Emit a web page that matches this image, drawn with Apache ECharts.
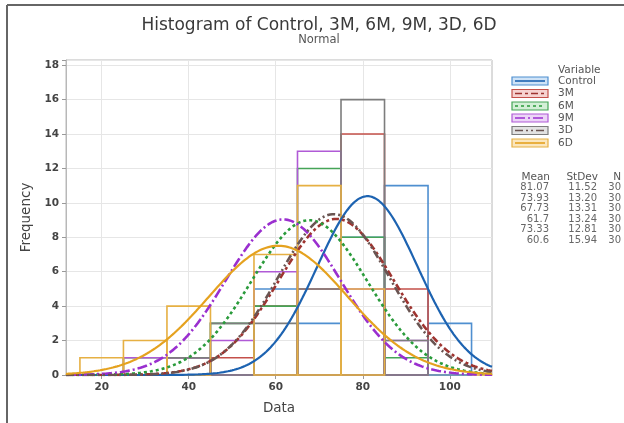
<!DOCTYPE html>
<html>
<head>
<meta charset="utf-8">
<script src="https://cdn.jsdelivr.net/npm/echarts@6/dist/echarts.min.js"></script>
<style>
  html, body { margin: 0; padding: 0; background: #fff; }
  #main { width: 624px; height: 423px; }
</style>
</head>
<body>
<div id="main"></div>
<script>
// bins are 10 wide, labelled by their centre
var binCenters = [20, 30, 40, 50, 60, 70, 80, 90, 100];
var variables = ['Control', '3M', '6M', '9M', '3D', '6D'];
var countsControl = [0, 0, 0, 0, 5, 3, 8, 11, 3];
var counts3M      = [0, 0, 1, 1, 4, 5, 14, 5, 0];
var counts6M      = [0, 1, 1, 3, 4, 12, 8, 1, 0];
var counts9M      = [0, 1, 1, 2, 6, 13, 5, 2, 0];
var counts3D      = [0, 0, 1, 3, 3, 5, 16, 2, 0];
var counts6D      = [1, 2, 4, 0, 7, 11, 5, 0, 0];
var means  = [81.07, 73.93, 67.73, 61.7, 73.33, 60.6];
var stdevs = [11.52, 13.20, 13.31, 13.24, 12.81, 15.94];
var sizes  = [30, 30, 30, 30, 30, 30];
var xTicks = [20, 40, 60, 80, 100];

var allCounts = [countsControl, counts3M, counts6M, counts9M, counts3D, counts6D];
var barColors  = ['#4f8fd0', '#c4504a', '#45a457', '#b05ad6', '#7d7d7d', '#e6b043'];
var lineColors = ['#1d63b1', '#9e3430', '#2a9b3b', '#9a2fcf', '#6a5552', '#e5a21f'];
var fillColors = ['#cfe3f7', '#f6d2d0', '#d3efd7', '#ecd5f7', '#e2e2e2', '#fbe6bd'];
var dashes = ['solid', [7, 3, 3, 3], [3, 3], [10, 3, 2, 3], [8, 3, 2, 3, 2, 3], 'solid'];
var lineWidths = [2.2, 2.6, 2.6, 2.6, 2.6, 2.2];

var xMin = 11.8, xMax = 109.7, binWidth = 10;
var font = 'DejaVu Sans';

var chart = echarts.init(document.getElementById('main'));

var series = [];
allCounts.forEach(function (counts, i) {
  series.push({
    name: variables[i] + ' bars',
    type: 'custom',
    z: 2,
    data: binCenters.map(function (c, k) { return [c, counts[k]]; }),
    renderItem: function (params, api) {
      var c = api.value(0), h = api.value(1);
      if (!h) return null;
      var p1 = api.coord([c - binWidth / 2, h]);
      var p2 = api.coord([c + binWidth / 2, 0]);
      return {
        type: 'rect',
        shape: { x: p1[0], y: p1[1], width: p2[0] - p1[0], height: p2[1] - p1[1] },
        style: { fill: 'none', stroke: barColors[i], lineWidth: 1.6 }
      };
    }
  });
});

// fitted normal curves, scaled to counts per bin
means.forEach(function (m, i) {
  var pts = [];
  for (var k = 0; k <= 200; k++) {
    var x = xMin + (xMax - xMin) * k / 200;
    var z = (x - m) / stdevs[i];
    pts.push([x, sizes[i] * binWidth * Math.exp(-0.5 * z * z) / (stdevs[i] * Math.sqrt(2 * Math.PI))]);
  }
  series.push({
    name: variables[i],
    type: 'line',
    z: 3,
    showSymbol: false,
    silent: true,
    data: pts,
    lineStyle: { color: lineColors[i], width: lineWidths[i], type: dashes[i] }
  });
});

var graphics = [
  { type: 'line', shape: { x1: 7, y1: 5, x2: 624, y2: 5 }, style: { stroke: '#666', lineWidth: 2 } },
  { type: 'line', shape: { x1: 7, y1: 5, x2: 7, y2: 423 }, style: { stroke: '#666', lineWidth: 2 } },
  { type: 'text', x: 558, y: 70, style: { text: 'Variable', fontSize: 10.5, fill: '#555', verticalAlign: 'middle', fontFamily: font } }
];
var rowY = [81, 93.5, 106, 118, 130.5, 143];
variables.forEach(function (v, i) {
  graphics.push({ type: 'rect', shape: { x: 512, y: rowY[i] - 4, width: 36, height: 8 },
    style: { fill: fillColors[i], stroke: barColors[i], lineWidth: 1.2 } });
  graphics.push({ type: 'line', shape: { x1: 515, y1: rowY[i], x2: 545, y2: rowY[i] },
    style: { stroke: lineColors[i], lineWidth: 1.6, lineDash: dashes[i] === 'solid' ? null : dashes[i] } });
  graphics.push({ type: 'text', x: 558, y: rowY[i], style: { text: v, fontSize: 10.5, fill: '#555', verticalAlign: 'middle', fontFamily: font } });
});
var statY = [187.5, 198, 208.5, 219, 229.5, 240];
function statText(s, x, y, size, color) {
  return { type: 'text', x: x, y: y, style: { text: s, fontSize: size, fill: color, align: 'right', verticalAlign: 'middle', fontFamily: font } };
}
graphics.push(statText('Mean', 550, 177, 10.5, '#555'));
graphics.push(statText('StDev', 598, 177, 10.5, '#555'));
graphics.push(statText('N', 621, 177, 10.5, '#555'));
means.forEach(function (m, i) {
  graphics.push(statText(String(m), 549, statY[i], 10, '#666'));
  graphics.push(statText(stdevs[i].toFixed(2), 597, statY[i], 10, '#666'));
  graphics.push(statText(String(sizes[i]), 621, statY[i], 10, '#666'));
});

var option = {
  animation: false,
  backgroundColor: '#fff',
  title: {
    text: 'Histogram of Control, 3M, 6M, 9M, 3D, 6D',
    subtext: 'Normal',
    left: 314,
    textAlign: 'center',
    top: 12,
    itemGap: 0,
    textStyle: { fontSize: 17, fontWeight: 'normal', color: '#3a3a3a', fontFamily: font },
    subtextStyle: { fontSize: 11.5, color: '#555', fontFamily: font }
  },
  grid: { left: 66, right: 132, top: 60, bottom: 48, show: true, borderColor: '#b8b8b8', borderWidth: 1 },
  xAxis: {
    type: 'value', min: xMin, max: xMax,
    name: 'Data', nameLocation: 'middle', nameGap: 26,
    nameTextStyle: { fontSize: 13.5, color: '#444', fontFamily: font },
    axisLine: { show: true, lineStyle: { color: '#e6b043', width: 1.5 } },
    axisTick: { show: true, customValues: xTicks, length: 4, lineStyle: { color: '#999' } },
    axisLabel: { customValues: xTicks, color: '#444', fontSize: 10.5, fontWeight: 'bold', margin: 7, fontFamily: font },
    splitLine: { show: true, lineStyle: { color: '#e6e6e6' } }
  },
  yAxis: {
    type: 'value', min: 0, max: 18.3, interval: 2,
    name: 'Frequency', nameLocation: 'middle', nameGap: 32,
    nameTextStyle: { fontSize: 13.5, color: '#444', fontFamily: font },
    axisLine: { show: true, lineStyle: { color: '#b8b8b8' } },
    axisTick: { show: true, length: 4, lineStyle: { color: '#999' } },
    axisLabel: {
      color: '#444', fontSize: 10.5, fontWeight: 'bold', margin: 7, fontFamily: font,
      formatter: function (v) { return (v % 2 === 0) ? String(v) : ''; }
    },
    splitLine: { show: true, lineStyle: { color: '#e6e6e6' } }
  },
  graphic: graphics,
  series: series
};
chart.setOption(option);
</script>
</body>
</html>
